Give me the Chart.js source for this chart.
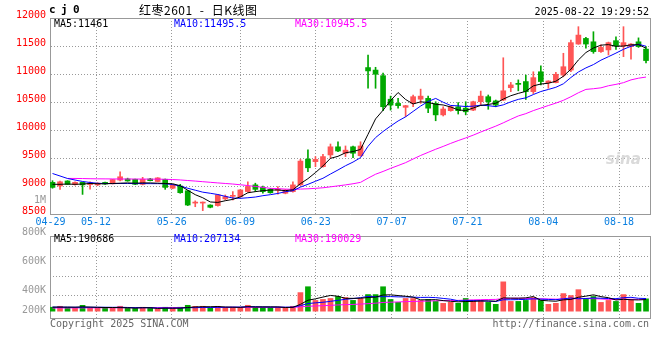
<!DOCTYPE html>
<html><head><meta charset="utf-8">
<script src="https://cdn.jsdelivr.net/npm/chart.js@4/dist/chart.umd.min.js"></script>
<style>
html,body{margin:0;padding:0;background:#fff;}
#wrap{position:relative;width:660px;height:360px;overflow:hidden;background:#fff;}
#wrap canvas{position:absolute;left:0;}
.t{position:absolute;white-space:pre;line-height:12px;font-size:10px;font-family:"DejaVu Sans Mono",monospace;color:#000;}
</style></head><body>
<div id="wrap">
<canvas id="kc" width="660" height="232" style="top:0px"></canvas>
<canvas id="vc" width="660" height="134" style="top:226px"></canvas>
<div class="t" style="left:49px;top:4px;font-weight:bold;font-size:11px;letter-spacing:-0.6px">c j 0</div>
<div class="t" style="left:139px;top:4px;font-family:'Noto Sans CJK SC';font-size:12px;letter-spacing:0.5px;word-spacing:4px">红枣2601 - 日K线图</div>
<div class="t" style="right:11px;top:6px">2025-08-22 19:29:52</div>
<div class="t" style="left:54px;top:18px">MA5:11461</div>
<div class="t" style="left:174px;top:18px;color:#0000ff">MA10:11495.5</div>
<div class="t" style="left:295px;top:18px;color:#ff00ff">MA30:10945.5</div>
<div class="t" style="right:614px;top:194px;color:#999">1M</div>
<div class="t" style="left:54px;top:233px">MA5:190686</div>
<div class="t" style="left:174px;top:233px;color:#0000ff">MA10:207134</div>
<div class="t" style="left:295px;top:233px;color:#ff00ff">MA30:190029</div>
<div class="t" style="left:50px;top:318px;color:#666">Copyright 2025 SINA.COM</div>
<div class="t" style="right:11px;top:318px;color:#666">http://finance.sina.com.cn</div>
<div class="t" style="left:606px;top:150px;color:#dadada;font-family:'DejaVu Sans';font-style:italic;font-weight:bold;font-size:15px;line-height:18px">sina</div>
</div>
<script>
const dates = ['04-29','04-30','05-06','05-07','05-08','05-09','05-12','05-13','05-14','05-15',
'05-16','05-19','05-20','05-21','05-22','05-23','05-26','05-27','05-28','05-29',
'05-30','06-03','06-04','06-05','06-06','06-09','06-10','06-11','06-12','06-13',
'06-16','06-17','06-18','06-19','06-20','06-23','06-24','06-25','06-26','06-27',
'06-30','07-01','07-02','07-03','07-04','07-07','07-08','07-09','07-10','07-11',
'07-14','07-15','07-16','07-17','07-18','07-21','07-22','07-23','07-24','07-25',
'07-28','07-29','07-30','07-31','08-01','08-04','08-05','08-06','08-07','08-08',
'08-11','08-12','08-13','08-14','08-15','08-18','08-19','08-20','08-21','08-22'];
const tickDates = ['04-29','05-12','05-26','06-09','06-23','07-07','07-21','08-04','08-18'];

const openP = [9065,9000,9090,9025,9065,9025,9020,9065,9040,9105,
9125,9120,9030,9125,9080,9120,8960,9000,8915,8695,
8695,8660,8650,8770,8815,8810,8900,9020,8975,8940,
8925,8870,8900,9020,9480,9435,9345,9555,9700,9585,
9700,9540,11115,11070,10970,10550,10475,10405,10475,10550,
10565,10475,10270,10345,10415,10390,10355,10505,10595,10520,
10535,10755,10820,10865,10685,11040,10845,10845,10980,11070,
11535,11635,11575,11400,11430,11595,11500,11490,11575,11445];
const highP = [9095,9090,9095,9075,9070,9075,9060,9070,9120,9255,
9140,9125,9155,9135,9150,9125,9030,9030,8920,8735,
8715,8665,8845,8840,8900,8935,9075,9050,9000,8955,
8990,8940,9075,9475,9645,9525,9565,9750,9790,9715,
9715,9790,11340,11120,11015,10605,10565,10440,10625,10730,
10605,10505,10415,10425,10490,10505,10515,10695,10625,10535,
11290,10850,10895,10980,11040,11145,10880,11030,11370,11605,
11845,11655,11755,11520,11570,11665,11845,11545,11645,11490];
const lowP = [8960,8940,9025,9015,8850,8945,9005,9030,9035,9090,
9085,9025,9020,9090,9075,8940,8950,8870,8650,8630,
8560,8610,8640,8750,8750,8800,8890,8900,8870,8870,
8855,8860,8890,9010,9255,9345,9335,9495,9615,9525,
9505,9530,10745,10745,10345,10355,10390,10240,10415,10475,
10310,10165,10250,10335,10285,10270,10345,10445,10370,10415,
10525,10685,10700,10545,10650,10805,10745,10840,10950,11040,
11530,11460,11370,11385,11340,11440,11310,11265,11475,11200];
const closeP = [8975,9075,9030,9065,9020,9055,9050,9035,9115,9165,
9090,9030,9120,9095,9145,8975,9020,8880,8660,8705,
8710,8620,8840,8810,8825,8930,8990,8940,8900,8880,
8935,8930,9020,9445,9325,9475,9525,9700,9625,9640,
9585,9715,11055,10995,10415,10445,10435,10435,10595,10605,
10390,10270,10375,10415,10345,10325,10505,10605,10505,10445,
10700,10805,10815,10685,10935,10865,10875,10995,11130,11560,
11695,11535,11400,11475,11560,11500,11560,11535,11490,11240];

const ma5 = [9030,9030,9035,9030,9035,9045,9040,9040,9045,9050,
9055,9050,9055,9055,9050,9045,9040,9005,8925,8845,
8790,8715,8707,8737,8761,8805,8879,8899,8917,8928,
8929,8917,8933,9042,9131,9239,9358,9494,9530,9593,
9615,9653,9924,10198,10353,10525,10669,10545,10465,10503,
10492,10459,10447,10411,10359,10346,10393,10439,10457,10477,
10552,10612,10654,10690,10788,10821,10835,10871,10960,11085,
11251,11383,11464,11515,11525,11494,11499,11520,11525,11461];
const ma10 = [9223,9179,9134,9107,9081,9063,9048,9045,9043,9045,
9045,9043,9043,9042,9042,9040,9025,9000,8960,8925,
8890,8870,8848,8815,8785,8780,8790,8803,8827,8845,
8867,8898,8916,8980,9030,9084,9138,9214,9286,9362,
9427,9506,9709,9864,9973,10070,10161,10235,10332,10428,
10509,10564,10496,10438,10431,10419,10426,10443,10434,10418,
10449,10503,10547,10574,10633,10687,10724,10763,10825,10937,
11036,11109,11168,11247,11309,11373,11441,11495,11531,11495.5];
const ma30 = [null,null,9135,9135,9133,9130,9128,9127,9126,9125,
9125,9124,9124,9123,9122,9120,9115,9108,9098,9088,
9077,9066,9055,9045,9035,9022,9008,8992,8975,8958,
8952,8945,8940,8945,8950,8958,8968,8985,9002,9020,
9040,9065,9140,9210,9260,9315,9365,9417,9482,9545,
9601,9656,9707,9761,9811,9858,9908,9964,10017,10069,
10128,10191,10251,10292,10346,10392,10437,10480,10530,10594,
10665,10725,10737,10753,10790,10815,10845,10895,10925,10945.5];

const volume = [64120,79850,63400,48210,95730,47980,63550,48760,47900,80340,
48330,47620,64080,48150,32470,63900,48020,64310,96180,79560,
80240,47880,79920,63770,64290,63850,96420,64160,63720,64050,
63980,48300,80110,304200,400600,175900,192300,208100,240500,223800,
176200,207900,272400,271800,400300,191700,144200,208300,207600,176400,
192100,160300,127800,144500,128200,208000,175600,176300,143900,112200,
480500,160200,159700,176100,224300,175800,112400,128100,288200,255900,
352400,207800,240100,143700,176200,159800,271900,191600,128300,202100];
const volMa5 = [66000,66000,66000,65000,70000,67000,63000,60000,60000,58000,
56000,51000,56000,56000,45000,49000,49000,49000,60000,69000,
73000,73000,76000,68000,65000,62000,73000,69000,70000,70000,
70000,60000,63000,112000,179000,202000,231000,258000,244000,210000,
210000,212000,224000,230000,265000,268000,256000,244000,230000,186000,
186000,189000,173000,162000,153000,158000,160000,167000,167000,163000,
217000,214000,212000,218000,240000,178000,169000,163000,186000,192000,
228000,246000,268000,238000,221000,183000,195000,187000,184000,190686];
const volMa10 = [66000,66000,65000,64000,64000,64000,64000,64000,63000,64000,
61000,57000,58000,58000,51000,52000,50000,52000,58000,57000,
61000,61000,63000,64000,67000,67000,73000,73000,69000,68000,
66000,66000,66000,91000,125000,136000,146000,161000,178000,195000,
206000,222000,241000,237000,237000,239000,234000,234000,230000,225000,
227000,222000,209000,196000,170000,172000,174000,170000,165000,158000,
187000,187000,190000,193000,202000,197000,192000,188000,202000,216000,
203000,208000,216000,212000,207000,205000,221000,227000,211000,207134];
const volMa30 = [52000,52000,53000,53000,54000,54000,55000,55000,56000,56000,
57000,57000,57000,58000,58000,58000,59000,59000,60000,60000,
60000,61000,61000,61000,62000,62000,62000,63000,63000,63000,
63000,61000,62000,71000,81000,85000,90000,95000,102000,107000,
111000,116000,123000,131000,143000,147000,151000,156000,159000,163000,
166000,170000,172000,175000,177000,182000,185000,188000,191000,193000,
207000,210000,213000,209000,203000,203000,200000,197000,199000,200000,
206000,206000,205000,200000,193000,191000,196000,195000,193000,190029];
const volTickLabels = ['800K','600K','400K','200K'];

const UP = '#ff5555', DOWN = '#00a800';
const GRID = '#999999', FRAME = '#999999';
const FONT = {family: 'DejaVu Sans Mono', size: 10};
const idx = dates.map((d, i) => i);
const tickIdx = tickDates.map(d => dates.indexOf(d));
const colors = idx.map(i => closeP[i] >= openP[i] ? UP : DOWN);
const pts = arr => arr.map((v, i) => ({x: i, y: v}));
const X_MIN = -0.333, X_MAX = 79.53;     // candle placement
const G_MIN = -0.069, G_MAX = 79.087;    // date grid placement

function line(data, color) {
  return {type: 'line', data: pts(data), borderColor: color, borderWidth: 1,
    pointRadius: 0, tension: 0, fill: false, xAxisID: 'x', yAxisID: 'y', order: 0};
}
function frameAxis(pos) {
  return {type: 'linear', position: pos, min: 0, max: 1, offset: false,
    ticks: {display: false}, grid: {drawOnChartArea: false, drawTicks: false},
    border: {display: true, color: FRAME, width: 1},
    afterFit: s => { if (pos === 'top' || pos === 'bottom') s.height = 0; else s.width = 0; }};
}
function dateAxis(showLabels, h) {
  return {type: 'linear', position: 'bottom', min: G_MIN, max: G_MAX, offset: false,
    afterBuildTicks: s => { s.ticks = tickIdx.map(v => ({value: v})); },
    ticks: {display: showLabels, autoSkip: false, maxRotation: 0, minRotation: 0,
      color: '#0a7fe0', font: FONT, padding: 2,
      callback: v => { const k = tickIdx.indexOf(v); return k >= 0 ? tickDates[k] : ''; }},
    grid: {color: GRID, lineWidth: 1, drawTicks: false, offset: false, borderDash: [1, 2]},
    border: {display: true, color: FRAME, width: 1, dash: [1, 2]},
    afterFit: s => { s.height = h; }};
}

Chart.defaults.font.family = 'DejaVu Sans Mono';

new Chart(document.getElementById('kc'), {
  type: 'bar',
  data: {datasets: [
    line(ma5, '#000000'),
    line(ma10, '#0000ff'),
    line(ma30, '#ff00ff'),
    {type: 'bar', data: idx.map(i => ({x: i, y: [lowP[i], highP[i]]})), backgroundColor: colors,
      barThickness: 1, grouped: false, borderWidth: 0, xAxisID: 'x', yAxisID: 'y', order: 2},
    {type: 'bar', data: idx.map(i => ({x: i, y: [openP[i], closeP[i]]})), backgroundColor: colors,
      barThickness: 5, minBarLength: 1, grouped: false, borderWidth: 0, xAxisID: 'x', yAxisID: 'y', order: 1}
  ]},
  options: {
    responsive: false, animation: false, devicePixelRatio: 1,
    layout: {padding: {left: 0, right: 10, top: 18, bottom: 0}},
    plugins: {legend: {display: false}, tooltip: {enabled: false}},
    scales: {
      x: {type: 'linear', display: false, min: X_MIN, max: X_MAX, offset: false},
      y: {type: 'linear', position: 'left', min: 8500, max: 12000,
        ticks: {stepSize: 500, color: '#ff0000', font: FONT, padding: 4, labelOffset: -3,
          callback: v => String(v)},
        grid: {color: GRID, lineWidth: 1, drawTicks: false, borderDash: [1, 2]},
        border: {display: true, color: FRAME, width: 1, dash: [1, 2]},
        afterFit: s => { s.width = 50; }},
      xg: dateAxis(true, 18),
      xt: frameAxis('top'),
      yr: frameAxis('right')
    }
  }
});

new Chart(document.getElementById('vc'), {
  type: 'bar',
  data: {datasets: [
    line(volMa5, '#000000'),
    line(volMa10, '#0000ff'),
    line(volMa30, '#ff00ff'),
    {type: 'bar', data: idx.map(i => ({x: i, y: volume[i]})), backgroundColor: colors,
      barThickness: 5, grouped: false, borderWidth: 0, xAxisID: 'x', yAxisID: 'y', order: 1}
  ]},
  options: {
    responsive: false, animation: false, devicePixelRatio: 1,
    layout: {padding: {left: 0, right: 10, top: 8, bottom: 42}},
    plugins: {legend: {display: false}, tooltip: {enabled: false}},
    scales: {
      x: {type: 'linear', display: false, min: X_MIN, max: X_MAX, offset: false},
      y: {type: 'linear', display: false, min: -112000, max: 1232000},
      yl: {type: 'linear', position: 'left', min: 0, max: 84,
        afterBuildTicks: s => { s.ticks = [84, 54, 24, 4].map(v => ({value: v})); },
        ticks: {autoSkip: false, color: '#999999', font: FONT, padding: 4, labelOffset: -4,
          callback: (v, i) => volTickLabels[i]},
        grid: {drawOnChartArea: false, drawTicks: false},
        border: {display: true, color: FRAME, width: 1},
        afterFit: s => { s.width = 50; }},
      yg: {type: 'linear', position: 'right', min: 0, max: 84,
        afterBuildTicks: s => { s.ticks = [23, 43, 63].map(v => ({value: v})); },
        ticks: {display: false},
        grid: {color: GRID, lineWidth: 1, drawTicks: false, borderDash: [1, 2]},
        border: {display: true, color: FRAME, width: 1, dash: [1, 2]},
        afterFit: s => { s.width = 0; }},
      xg: dateAxis(false, 0),
      xt: frameAxis('top')
    }
  }
});
</script>
</body></html>
